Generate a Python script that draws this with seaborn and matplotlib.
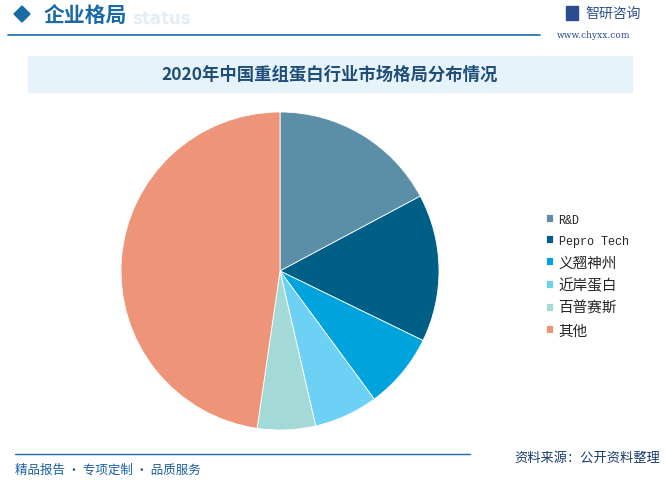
import matplotlib
matplotlib.use("Agg")
import matplotlib.pyplot as plt
import seaborn as sns
from matplotlib.patches import Rectangle, Polygon
from matplotlib.lines import Line2D

# data
companies = ["R&D", "Pepro Tech", "义翘神州", "近岸蛋白", "百普赛斯", "其他"]
shares = [17.2, 15.0, 7.7, 6.5, 5.9, 47.7]
colors = ["#5b8fa8", "#005f87", "#00a3dc", "#6dd0f5", "#a3d9d6", "#ee9479"]

title = "2020年中国重组蛋白行业市场格局分布情况"
header = "企业格局"
source = "资料来源：公开资料整理"
slogan = "精品报告 · 专项定制 · 品质服务"

sns.set_theme(style="white")
plt.rcParams['font.family'] = ['Noto Sans CJK SC', 'DejaVu Sans']

W, H = 666, 481
fig = plt.figure(figsize=(W / 100, H / 100), dpi=100)
fig.patch.set_facecolor("white")

def fx(x):
    return x / W

def fy(y):
    return 1 - y / H

# header
fig.patches.append(Polygon([(fx(14), fy(15)), (fx(22), fy(7)), (fx(30), fy(15)), (fx(22), fy(23))],
                           closed=True, transform=fig.transFigure, color="#1a6aa6"))
fig.text(fx(44), fy(15), header, fontsize=15, fontweight="bold", color="#1a6aa6", va="center")
fig.text(fx(132), fy(19), "status", fontsize=12, fontweight="bold", color="#e3edf5",
         va="center", family="DejaVu Sans", zorder=0)
fig.lines.append(Line2D([fx(8), fx(540)], [fy(36), fy(36)], transform=fig.transFigure,
                        color="#1a6aa6", lw=1.2))
fig.patches.append(Rectangle((fx(566), fy(21)), fx(12), 14 / H, transform=fig.transFigure,
                             color="#2a4d8f"))
fig.text(fx(585), fy(14), "智研咨询", fontsize=10, color="#2a4d8f", va="center")
fig.text(fx(557), fy(35), "www.chyxx.com", fontsize=6.5, color="#2a4d8f", va="center",
         family="DejaVu Serif")

# title box
fig.patches.append(Rectangle((fx(28), fy(93)), fx(604), 36 / H, transform=fig.transFigure,
                             color="#e6f3fb", zorder=0))
fig.text(fx(330), fy(75), title, fontsize=12.5, fontweight="bold", color="#1f4e79",
         ha="center", va="center")

# pie
cx, cy, r = 280, 272, 159
ax = fig.add_axes([fx(cx - r), fy(cy + r), 2 * r / W, 2 * r / H])
wedges, _ = ax.pie(shares, colors=colors, startangle=90, counterclock=False,
                   wedgeprops=dict(edgecolor="white", linewidth=0.6))
ax.set_xlim(-1, 1)
ax.set_ylim(-1, 1)
ax.set_aspect("equal")
ax.axis("off")

# legend
leg = fig.legend(wedges, companies, loc="upper left", bbox_to_anchor=(fx(533), fy(202)),
                 frameon=False, fontsize=10.5, handlelength=0.45, handleheight=0.45,
                 handletextpad=0.4, labelspacing=0.58)
for t in leg.get_texts()[:2]:
    t.set_family(["Liberation Mono", "DejaVu Sans Mono"])
    t.set_fontsize(8.5)

# footer
fig.lines.append(Line2D([fx(15), fx(470)], [fy(455), fy(455)], transform=fig.transFigure,
                        color="#1a6aa6", lw=1.0))
fig.text(fx(15), fy(470), slogan, fontsize=9, color="#1a5fa0", va="center")
fig.text(fx(660), fy(458), source, fontsize=9.5, color="#1a3d6e", va="center", ha="right")

fig.savefig("out.png", dpi=100, facecolor="white")
